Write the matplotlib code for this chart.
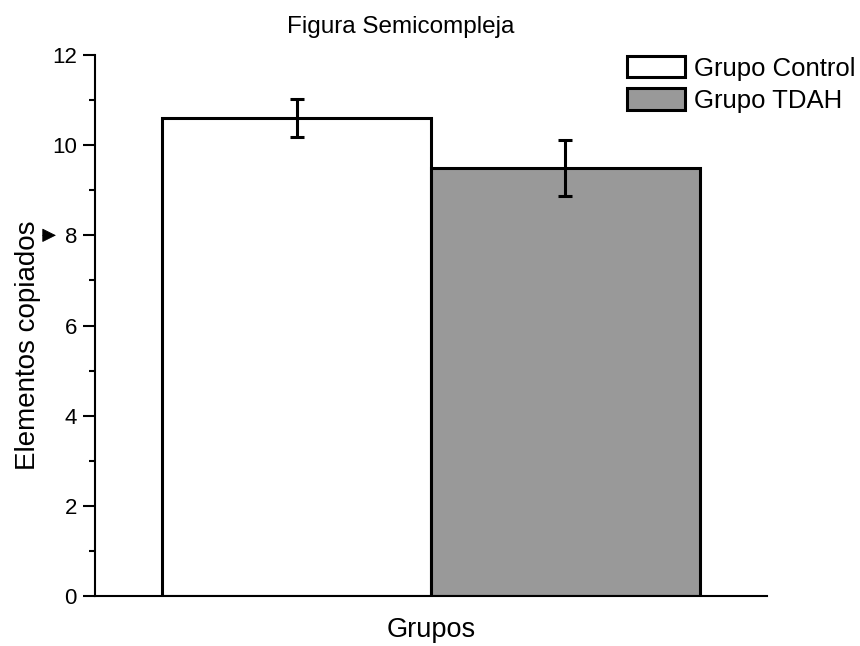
import matplotlib
matplotlib.use("Agg")
import matplotlib.pyplot as plt
from matplotlib.ticker import MultipleLocator

plt.rcParams["font.family"] = ["Liberation Sans", "DejaVu Sans"]

# Data
groups = ["Grupo Control", "Grupo TDAH"]
means = [10.6, 9.5]
errors = [0.42, 0.62]
colors = ["#ffffff", "#999999"]

fig = plt.figure(figsize=(8.6, 6.46), dpi=100)
W, H = 860, 646
ax = fig.add_axes([95 / W, 1 - 596 / H, (767 - 95) / W, (596 - 55) / H])

positions = [1, 2]
for pos, m, e, c, g in zip(positions, means, errors, colors, groups):
    ax.bar(pos, m, width=1.0, color=c, edgecolor="black", linewidth=2.2,
           label=g, zorder=2)
    ax.errorbar(pos, m, yerr=e, fmt="none", ecolor="black", elinewidth=2.2,
                capsize=4.8, capthick=2.2, zorder=3)

ax.set_xlim(0.25, 2.75)
ax.set_ylim(0, 12)
ax.yaxis.set_major_locator(MultipleLocator(2))
ax.yaxis.set_minor_locator(MultipleLocator(1))
ax.set_xticks([])

for side in ["top", "right"]:
    ax.spines[side].set_visible(False)
for side in ["left", "bottom"]:
    ax.spines[side].set_linewidth(1.5)

ax.tick_params(axis="y", which="major", length=8.5, width=1.5, pad=4.5,
               labelsize=16, direction="out")
ax.tick_params(axis="y", which="minor", length=4.5, width=1.5, direction="out")

# small arrow pointing to the 8 tick label
ax.annotate("", xy=(-0.054, 8), xytext=(-0.082, 8),
            xycoords=ax.get_yaxis_transform(), textcoords=ax.get_yaxis_transform(),
            arrowprops=dict(arrowstyle="-|>", color="black", lw=0.6,
                            mutation_scale=22), annotation_clip=False)

fig.text(401 / W, 1 - 33 / H, "Figura Semicompleja", ha="center",
         va="baseline", fontsize=17.5)
fig.text(431 / W, 1 - 637 / H, "Grupos", ha="center", va="baseline", fontsize=19.5)
fig.text(28 / W, 1 - 345 / H, "Elementos copiados", ha="center", va="center",
         rotation=90, fontsize=20)

ax.legend(loc="upper left", bbox_to_anchor=(627 / W, 1 - 56 / H),
          bbox_transform=fig.transFigure, frameon=False, fontsize=18.5,
          handlelength=2.27, handleheight=0.9, handletextpad=0.35,
          labelspacing=0.3, borderpad=0, borderaxespad=0)

fig.savefig("out.png", dpi=100)
